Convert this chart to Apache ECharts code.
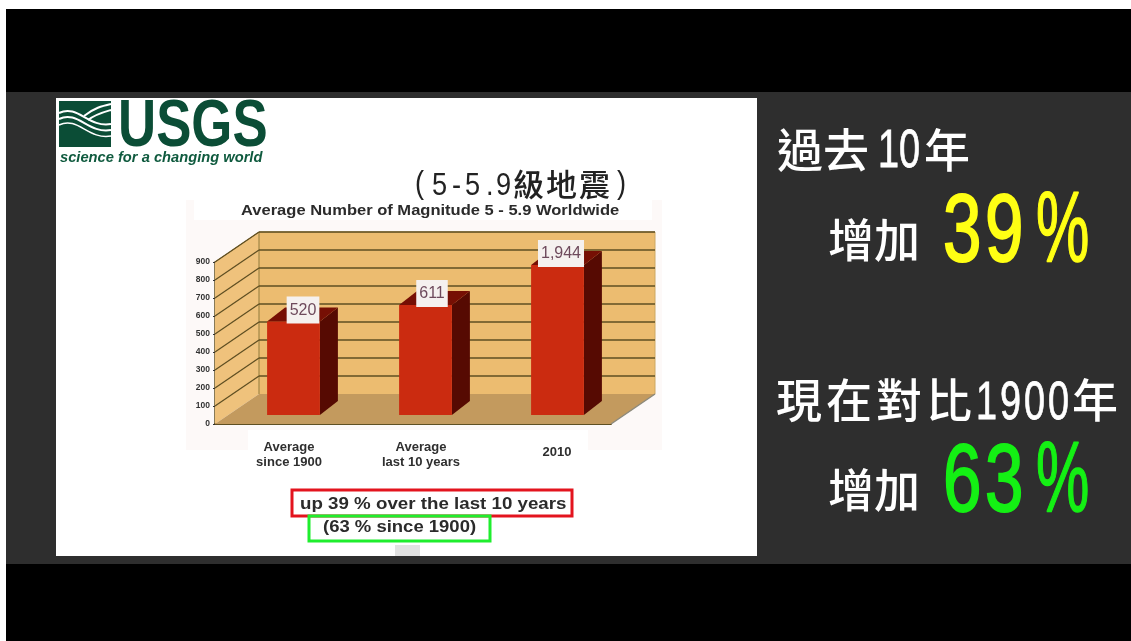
<!DOCTYPE html>
<html><head><meta charset="utf-8">
<style>html,body{margin:0;padding:0;background:#fff;overflow:hidden}#c{width:1131px;height:641px;filter:blur(.45px)}</style>
<script src="https://cdn.jsdelivr.net/npm/echarts@6/dist/echarts.min.js"></script>
</head><body><div id="c"></div>
<script>
const categories = ["Average\nsince 1900", "Average\nlast 10 years", "2010"];
const barHeights = [520, 611, 833];
const barLabels = ["520", "611", "1,944"];
const gridValues = [100, 200, 300, 400, 500, 600, 700, 800, 900];

const SANS = '"Liberation Sans", Arial, sans-serif';
const CJK = '"Noto Sans CJK TC", sans-serif';
const INK = '#2b2b2b';
const WALL_DX = 44, WALL_DY = -30, BAR_OFF_X = 12.5, BAR_OFF_Y = -9, BAR_DX = 18, BAR_DY = -14;

const chart = echarts.init(document.getElementById('c'), null, {renderer: 'canvas'});

function T(text, x, y, size, fill, font, extra, strokeW) {
  const t = Object.assign({type: 'text', x, y, z: 5, silent: true,
    style: {text, fill, font: `${size}px ${font}`, verticalAlign: 'middle'}}, extra || {});
  if (strokeW) { t.style.stroke = fill; t.style.lineWidth = strokeW; }
  return t;
}
function bold(text, x, y, size, fill, extra, italic) {
  const t = T(text, x, y, size, fill, SANS, extra);
  t.style.font = `${italic ? 'italic ' : ''}bold ${size}px ${SANS}`;
  return t;
}
function H(text, x, y, size, fill) {
  const t = T(text, x, y, size, fill, CJK);
  t.style.font = `500 ${size}px ${CJK}`;
  return t;
}
function R(x, y, width, height, fill, z) {
  return {type: 'rect', shape: {x, y, width, height}, style: {fill}, z: z == null ? -10 : z, silent: true};
}
function wave(x1, y1, cpx1, cpy1, cpx2, cpy2, x2, y2, w) {
  return {type: 'bezierCurve', z: 4, silent: true, shape: {x1, y1, cpx1, cpy1, cpx2, cpy2, x2, y2},
    style: {stroke: '#ffffff', lineWidth: w, fill: null}};
}
function box(x, y, width, height, stroke) {
  return {type: 'rect', z: 4, silent: true, shape: {x, y, width, height}, style: {fill: null, stroke, lineWidth: 3}};
}
const NARROW = {scaleX: 0.7}, DIGIT = {scaleX: 0.72}, PCT = {scaleX: 0.6}, SUB = {scaleX: 0.85};
const YEL = '#ffff14', GRN = '#14f014';

const graphics = [
  R(6, 9, 1125, 632, '#000000', -12),
  R(6, 92, 1125, 472, '#2e2e2e', -11),
  R(56, 98, 701, 458, '#ffffff', -10),
  R(186, 200, 476, 250, '#fdf9f8', -9),
  R(194, 194, 458, 26, '#ffffff', -8),
  R(248, 430, 340, 46, '#ffffff', -8),
  R(395, 545, 25, 11, '#e2e2e2', -8),
  // logo
  R(59, 101, 52, 46, '#0b4d36', 3),
  wave(59, 113, 78, 104, 88, 128, 111, 124, 2),
  wave(59, 119, 78, 110, 88, 134, 111, 130, 2),
  wave(59, 125, 78, 116, 88, 140, 111, 136, 1.5),
  wave(84, 116, 94, 108, 102, 106, 111, 104, 2),
  wave(88, 120, 96, 114, 104, 112, 111, 110, 2),
  bold('USGS', 118, 128, 66, '#0b4d36', {scaleX: 0.8}),
  bold('science for a changing world', 60, 158, 14.7, '#0f5a3e', null, true),
  // chart heading
  bold('Average Number of Magnitude 5 - 5.9 Worldwide', 241, 211, 14, INK, {scaleX: 1.18}),
  // Chinese subtitle
  T('(', 415, 184, 32, '#222', SANS, SUB),
  T('5', 432, 186, 32, '#222', SANS, SUB), T('-', 452, 186, 32, '#222', SANS, SUB),
  T('5', 465, 186, 32, '#222', SANS, SUB), T('.', 486, 186, 32, '#222', SANS, SUB),
  T('9', 496, 186, 32, '#222', SANS, SUB),
  H('級', 513, 184, 31, '#222'), H('地', 546, 184, 31, '#222'), H('震', 579, 184, 31, '#222'),
  T(')', 617, 184, 32, '#222', SANS, SUB),
  // boxes below the chart
  box(292, 490, 280, 26, '#e3141e'),
  box(309, 516, 181, 25, '#1fee2e'),
  bold('up 39 % over the last 10 years', 300, 504, 16.5, INK, {scaleX: 1.135}),
  bold('(63 % since 1900)', 323, 527, 16.5, INK, {scaleX: 1.12}),
  // right panel
  H('過去', 777, 150, 46, '#fff'),
  T('10', 878, 152, 54, '#fff', SANS, NARROW, 0.8),
  H('年', 924, 150, 46, '#fff'),
  H('增加', 828, 240, 46, '#fff'),
  T('3', 943, 235, 96, YEL, SANS, DIGIT, 2), T('9', 985, 235, 96, YEL, SANS, DIGIT, 2),
  T('%', 1036, 233, 100, YEL, SANS, PCT, 1.5),
  H('現', 776, 400, 46, '#fff'), H('在', 826, 400, 46, '#fff'),
  H('對', 876, 400, 46, '#fff'), H('比', 926, 400, 46, '#fff'),
  T('1', 976, 404, 54, '#fff', SANS, NARROW, 0.8), T('9', 1000, 404, 54, '#fff', SANS, NARROW, 0.8),
  T('0', 1024, 404, 54, '#fff', SANS, NARROW, 0.8), T('0', 1048, 404, 54, '#fff', SANS, NARROW, 0.8),
  H('年', 1072, 400, 46, '#fff'),
  H('增加', 828, 490, 46, '#fff'),
  T('6', 943, 485, 96, GRN, SANS, DIGIT, 2), T('3', 985, 485, 96, GRN, SANS, DIGIT, 2),
  T('%', 1036, 483, 100, GRN, SANS, PCT, 1.5)
];

function poly(points, fill, z2) {
  return {type: 'polygon', shape: {points}, style: {fill}, z2: z2 || 0};
}
function line(a, b, stroke, lineWidth) {
  return {type: 'line', shape: {x1: a[0], y1: a[1], x2: b[0], y2: b[1]}, style: {stroke, lineWidth}};
}

function renderWalls(params, api) {
  const cs = params.coordSys;
  const L = cs.x, Rt = cs.x + cs.width, B = cs.y + cs.height, Tp = cs.y;
  const dx = WALL_DX, dy = WALL_DY;
  return {type: 'group', children: [
    poly([[L, Tp], [L + dx, Tp + dy], [L + dx, B + dy], [L, B]], '#efc27c'),
    poly([[L + dx, Tp + dy], [Rt + dx, Tp + dy], [Rt + dx, B + dy], [L + dx, B + dy]], '#ecbc70'),
    poly([[L, B], [L + dx, B + dy], [Rt + dx, B + dy], [Rt, B]], '#c39a5e'),
    line([L, Tp], [L + dx, Tp + dy], '#a98a4a', 1),
    line([L + dx, Tp + dy], [Rt + dx, Tp + dy], '#b5964f', 1),
    line([Rt + dx, Tp + dy], [Rt + dx, B + dy], '#cda863', 1),
    line([L + dx, Tp + dy], [L + dx, B + dy], '#8f7a3c', 1),
    line([Rt, B], [Rt + dx, B + dy], '#8d8a7c', 1.5)
  ]};
}
function renderGridLine(params, api) {
  const cs = params.coordSys;
  const y = api.coord([0, api.value(1)])[1];
  const a = [cs.x, y], b = [cs.x + WALL_DX, y + WALL_DY], c = [cs.x + cs.width + WALL_DX, y + WALL_DY];
  return {type: 'group', children: [line(a, b, '#5f4f22', 1.3), line(b, c, '#5f4f22', 1.6)]};
}
function renderBar(params, api) {
  const i = api.value(0), v = api.value(1);
  const base = api.coord([i, 0]), top = api.coord([i, v]);
  const halfW = api.size([1, 0])[0] * 0.2;
  const x0 = base[0] + BAR_OFF_X - halfW, x1 = base[0] + BAR_OFF_X + halfW;
  const yb = base[1] + BAR_OFF_Y, yt = top[1] + BAR_OFF_Y;
  return {type: 'group', children: [
    poly([[x1, yt], [x1 + BAR_DX, yt + BAR_DY], [x1 + BAR_DX, yb + BAR_DY], [x1, yb]], '#560a02'),
    poly([[x0, yt], [x0 + BAR_DX, yt + BAR_DY], [x1 + BAR_DX, yt + BAR_DY], [x1, yt]], '#760f04'),
    poly([[x0, yb], [x0, yt], [x1, yt], [x1, yb]], '#cb2b10'),
    {type: 'text', z2: 5, style: {
      text: barLabels[i], x: base[0] + BAR_OFF_X + 9.5 - 3 * i, y: yt + 2,
      align: 'center', verticalAlign: 'bottom',
      fill: '#6e4a5c', font: `16px ${SANS}`,
      backgroundColor: '#f5f1ef', padding: [6, 3, 5, 3]
    }}
  ]};
}

chart.setOption({
  animation: false,
  backgroundColor: '#ffffff',
  grid: {left: 215, right: 520, top: 262, bottom: 217, containLabel: false},
  xAxis: {
    type: 'category',
    data: categories.map(c => c.includes('\n') ? c : {value: c, textStyle: {padding: [5, 0, 0, 24]}}),
    axisLine: {lineStyle: {color: '#5f4f22', width: 2}},
    axisTick: {length: 2, lineStyle: {color: '#5f4f22'}},
    axisLabel: {margin: 16, fontFamily: SANS, fontSize: 13, fontWeight: 'bold', color: '#2f2f2f', lineHeight: 15, padding: [0, 0, 0, 16], interval: 0}
  },
  yAxis: {
    type: 'value', min: 0, max: 900, interval: 100,
    splitLine: {show: false},
    axisLine: {show: true, lineStyle: {color: '#5f4f22', width: 1.5}},
    axisTick: {show: true, length: 2, lineStyle: {color: '#333'}},
    axisLabel: {margin: 5, fontFamily: SANS, fontSize: 8.5, fontWeight: 'bold', color: '#333'}
  },
  graphic: {elements: graphics},
  series: [
    {name: 'walls', type: 'custom', z: 1, silent: true, renderItem: renderWalls, data: [[0, 0]], clip: false, encode: {x: 0, y: 1}},
    {name: 'gridlines', type: 'custom', z: 1.5, silent: true, renderItem: renderGridLine, data: gridValues.map(v => [0, v]), clip: false, encode: {x: 0, y: 1}},
    {name: 'bars', type: 'custom', z: 3, silent: true, renderItem: renderBar, data: barHeights.map((v, i) => [i, v]), clip: false, encode: {x: 0, y: 1}}
  ]
});
</script></body></html>
